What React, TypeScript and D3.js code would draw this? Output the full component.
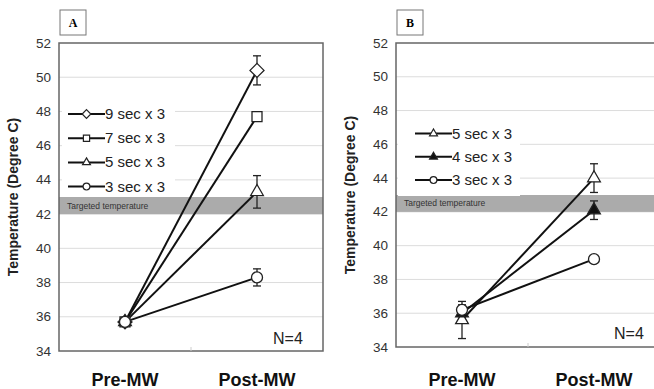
import * as d3 from "d3";
import { useEffect, useRef } from "react";

const categories = ["Pre-MW", "Post-MW"];
const yTicks = [34, 36, 38, 40, 42, 44, 46, 48, 50, 52];
const targetBand = [42, 43];

// Panel A
const labelsA = ["9 sec x 3", "7 sec x 3", "5 sec x 3", "3 sec x 3"];
const symbolsA = ["diamond", "square", "triangle", "circle"];
const fillsA = ["#fff", "#fff", "#fff", "#fff"];
const valuesA = [
  [35.7, 50.4],
  [35.7, 47.7],
  [35.7, 43.3],
  [35.7, 38.3],
];
const errorsA = [
  [0.15, 0.85],
  [0.15, 0.25],
  [0.15, 0.95],
  [0.15, 0.5],
];

// Panel B
const labelsB = ["5 sec x 3", "4 sec x 3", "3 sec x 3"];
const symbolsB = ["triangle", "triangle", "circle"];
const fillsB = ["#fff", "#111", "#fff"];
const valuesB = [
  [35.6, 44.0],
  [36.0, 42.1],
  [36.2, 39.2],
];
const errorsB = [
  [1.1, 0.85],
  [0.3, 0.55],
  [0.3, 0.1],
];

type Panel = {
  tag: string;
  left: number;
  top: number;
  width: number;
  bottom: number;
  labels: string[];
  symbols: string[];
  fills: string[];
  values: number[][];
  errors: number[][];
  legend: { x: number; y: number; step: number; bg: [number, number, number, number] };
  nLabel: { x: number; y: number };
};

const FONT = "Liberation Sans, Arial, sans-serif";

function symbolPath(kind: string, big: boolean) {
  const k = big ? 1 : 0.62;
  if (kind === "diamond") {
    const r = 7 * k;
    return `M0,${-r}L${r},0L0,${r}L${-r},0Z`;
  }
  if (kind === "square") return d3.symbol(d3.symbolSquare, 100 * k * k)()!;
  if (kind === "triangle") return d3.symbol(d3.symbolTriangle, 70 * k * k)()!;
  return d3.symbol(d3.symbolCircle, 95 * k * k)()!;
}

function drawPanel(svg: d3.Selection<SVGSVGElement, unknown, null, undefined>, p: Panel) {
  const g = svg.append("g");
  const x = d3.scaleBand().domain(categories).range([p.left, p.left + p.width]);
  const y = d3.scaleLinear().domain([34, 52]).range([p.bottom, p.top]);
  const cx = (c: string) => x(c)! + x.bandwidth() / 2;

  // panel tag
  g.append("rect")
    .attr("x", p.left + 1)
    .attr("y", 10)
    .attr("width", 26)
    .attr("height", 25)
    .attr("fill", "#fff")
    .attr("stroke", "#777")
    .attr("stroke-width", 1);
  g.append("text")
    .attr("x", p.left + 14)
    .attr("y", 27)
    .attr("text-anchor", "middle")
    .attr("font-family", "Liberation Serif, Times New Roman, serif")
    .attr("font-weight", "bold")
    .attr("font-size", 12)
    .text(p.tag);

  // gridlines
  g.selectAll(".grid")
    .data(yTicks.slice(1, -1))
    .enter()
    .append("line")
    .attr("x1", p.left)
    .attr("x2", p.left + p.width)
    .attr("y1", (d) => y(d))
    .attr("y2", (d) => y(d))
    .attr("stroke", "#dcdcdc")
    .attr("stroke-width", 1);

  // targeted temperature band
  g.append("rect")
    .attr("x", p.left)
    .attr("y", y(targetBand[1]))
    .attr("width", p.width)
    .attr("height", y(targetBand[0]) - y(targetBand[1]))
    .attr("fill", "#ababab");
  g.append("text")
    .attr("x", p.left + 8)
    .attr("y", y(42.5) + 3)
    .attr("font-family", FONT)
    .attr("font-size", 8.5)
    .attr("fill", "#333")
    .text("Targeted temperature");

  // legend background
  const [bx, by, bw, bh] = p.legend.bg;
  g.append("rect").attr("x", bx).attr("y", by).attr("width", bw).attr("height", bh).attr("fill", "#fff");

  // frame
  g.append("rect")
    .attr("x", p.left)
    .attr("y", p.top)
    .attr("width", p.width)
    .attr("height", p.bottom - p.top)
    .attr("fill", "none")
    .attr("stroke", "#666")
    .attr("stroke-width", 1.5);
  g.append("line")
    .attr("x1", p.left + p.width / 2)
    .attr("x2", p.left + p.width / 2)
    .attr("y1", p.bottom)
    .attr("y2", p.bottom - 4)
    .attr("stroke", "#ccc");

  // y tick labels
  g.selectAll(".ytick")
    .data(yTicks)
    .enter()
    .append("text")
    .attr("x", p.left - 8)
    .attr("y", (d) => y(d) + 4.5)
    .attr("text-anchor", "end")
    .attr("font-family", FONT)
    .attr("font-size", 13.5)
    .attr("fill", "#333")
    .text((d) => d);

  g.append("text")
    .attr("transform", `translate(${p.left - 41},${(p.top + p.bottom) / 2}) rotate(-90)`)
    .attr("text-anchor", "middle")
    .attr("font-family", FONT)
    .attr("font-weight", "bold")
    .attr("font-size", 14)
    .attr("fill", "#222")
    .text("Temperature (Degree C)");

  // x category labels
  g.selectAll(".xlab")
    .data(categories)
    .enter()
    .append("text")
    .attr("x", (d) => cx(d))
    .attr("y", 386)
    .attr("text-anchor", "middle")
    .attr("font-family", FONT)
    .attr("font-weight", "bold")
    .attr("font-size", 18)
    .attr("fill", "#111")
    .text((d) => d);

  // lines
  const line = d3
    .line<number>()
    .x((_, i) => cx(categories[i]))
    .y((d) => y(d));
  p.values.forEach((vals) => {
    g.append("path").attr("d", line(vals)).attr("fill", "none").attr("stroke", "#111").attr("stroke-width", 2);
  });

  // error bars + markers
  p.values.forEach((vals, s) => {
    vals.forEach((v, i) => {
      const e = p.errors[s][i];
      const px = cx(categories[i]);
      g.append("line")
        .attr("x1", px)
        .attr("x2", px)
        .attr("y1", y(v - e))
        .attr("y2", y(v + e))
        .attr("stroke", "#222")
        .attr("stroke-width", 1.3);
      [v - e, v + e].forEach((ev) => {
        g.append("line")
          .attr("x1", px - 4)
          .attr("x2", px + 4)
          .attr("y1", y(ev))
          .attr("y2", y(ev))
          .attr("stroke", "#222")
          .attr("stroke-width", 1.3);
      });
    });
  });
  p.values.forEach((vals, s) => {
    vals.forEach((v, i) => {
      g.append("path")
        .attr("d", symbolPath(p.symbols[s], true))
        .attr("transform", `translate(${cx(categories[i])},${y(v)})`)
        .attr("fill", p.fills[s])
        .attr("stroke", "#222")
        .attr("stroke-width", 1.3);
    });
  });

  // legend
  p.labels.forEach((lab, s) => {
    const ly = p.legend.y + s * p.legend.step;
    g.append("line")
      .attr("x1", p.legend.x)
      .attr("x2", p.legend.x + 37)
      .attr("y1", ly)
      .attr("y2", ly)
      .attr("stroke", "#111")
      .attr("stroke-width", 2);
    g.append("path")
      .attr("d", symbolPath(p.symbols[s], false))
      .attr("transform", `translate(${p.legend.x + 18.5},${ly})`)
      .attr("fill", p.fills[s])
      .attr("stroke", "#222")
      .attr("stroke-width", 1.2);
    g.append("text")
      .attr("x", p.legend.x + 37)
      .attr("y", ly + 5)
      .attr("font-family", FONT)
      .attr("font-size", 15)
      .attr("fill", "#222")
      .text(lab);
  });

  g.append("text")
    .attr("x", p.nLabel.x)
    .attr("y", p.nLabel.y)
    .attr("font-family", FONT)
    .attr("font-size", 16)
    .attr("fill", "#222")
    .text("N=4");
}

export default function App() {
  const ref = useRef<SVGSVGElement>(null);
  useEffect(() => {
    if (!ref.current) return;
    const svg = d3.select(ref.current);
    svg.selectAll("*").remove();
    drawPanel(svg, {
      tag: "A",
      left: 59,
      top: 43,
      width: 264,
      bottom: 351,
      labels: labelsA,
      symbols: symbolsA,
      fills: fillsA,
      values: valuesA,
      errors: errorsA,
      legend: { x: 68, y: 114, step: 24.2, bg: [62, 100, 113, 96] },
      nLabel: { x: 273, y: 344 },
    });
    drawPanel(svg, {
      tag: "B",
      left: 396,
      top: 43,
      width: 264,
      bottom: 347,
      labels: labelsB,
      symbols: symbolsB,
      fills: fillsB,
      values: valuesB,
      errors: errorsB,
      legend: { x: 415, y: 133.5, step: 23.3, bg: [398, 118, 122, 78] },
      nLabel: { x: 614, y: 339 },
    });
  }, []);
  return (
    <svg
      ref={ref}
      width={654}
      height={389}
      style={{ position: "absolute", left: 0, top: 0, background: "#fff" }}
    />
  );
}
